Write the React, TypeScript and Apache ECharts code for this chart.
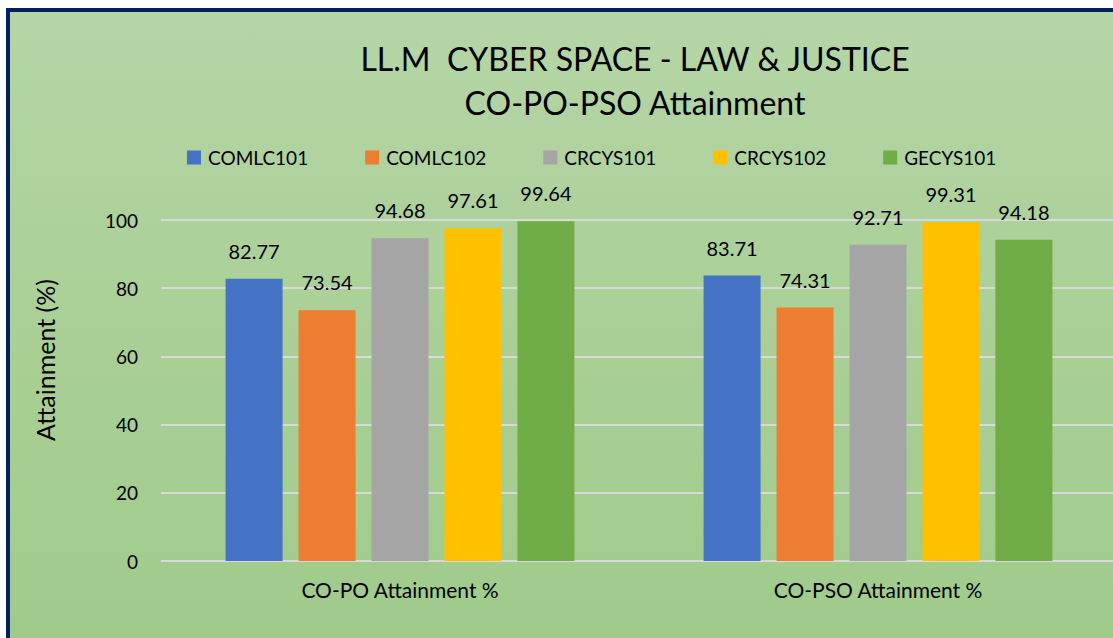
import React, { useEffect, useRef } from "react";
import * as echarts from "echarts";

const categories = ["CO-PO Attainment %", "CO-PSO Attainment %"];
const seriesNames = ["COMLC101", "COMLC102", "CRCYS101", "CRCYS102", "GECYS101"];
const comlc101 = [82.77, 83.71];
const comlc102 = [73.54, 74.31];
const crcys101 = [94.68, 92.71];
const crcys102 = [97.61, 99.31];
const gecys101 = [99.64, 94.18];
const yTicks = [0, 20, 40, 60, 80, 100];
const titleLines = ["LL.M  CYBER SPACE - LAW & JUSTICE", "CO-PO-PSO Attainment"];
const yAxisName = "Attainment (%)";

const colors = ["#4472C4", "#ED7D31", "#A5A5A5", "#FFC000", "#70AD47"];
const FONT = "Lato, 'Open Sans', sans-serif";

export default function App() {
  const ref = useRef<HTMLDivElement>(null);
  useEffect(() => {
    document.body.style.margin = "0";
    document.body.style.overflow = "hidden";
    const chart = echarts.init(ref.current!, null, { renderer: "svg" });
    const values = [comlc101, comlc102, crcys101, crcys102, gecys101];
    chart.setOption({
      animation: false,
      backgroundColor: "transparent",
      textStyle: { fontFamily: FONT },
      graphic: [
        {
          type: "text",
          x: 635,
          y: 58,
          style: {
            text: titleLines[0],
            fontSize: 32,
            fontFamily: FONT,
            fill: "#000",
            align: "center",
            verticalAlign: "middle",
          },
        },
        {
          type: "text",
          x: 635,
          y: 102,
          style: {
            text: titleLines[1],
            fontSize: 32,
            fontFamily: FONT,
            fill: "#000",
            align: "center",
            verticalAlign: "middle",
          },
        },
        {
          type: "text",
          x: 45,
          y: 360,
          rotation: Math.PI / 2,
          style: {
            text: yAxisName,
            fontSize: 25,
            fontFamily: FONT,
            fill: "#000",
            align: "center",
            verticalAlign: "middle",
          },
        },
      ],
      legend: {
        data: seriesNames,
        left: 182,
        top: 143,
        itemWidth: 14,
        itemHeight: 14,
        itemGap: 57,
        icon: "rect",
        textStyle: { fontSize: 19, fontFamily: FONT, color: "#000", padding: [0, 0, 0, 2] },
      },
      grid: {
        left: 161,
        right: -4,
        top: 220,
        bottom: 77,
        containLabel: false,
        outerBoundsMode: "none",
      },
      xAxis: {
        type: "category",
        data: categories,
        axisLine: { show: false },
        axisTick: { show: false },
        axisLabel: { fontSize: 21, color: "#000", margin: 18, fontFamily: FONT },
      },
      yAxis: {
        type: "value",
        min: yTicks[0],
        max: yTicks[yTicks.length - 1],
        interval: 20,
        axisLine: { show: false },
        axisTick: { show: false },
        axisLabel: { fontSize: 19, color: "#000", margin: 23, fontFamily: FONT },
        splitLine: { lineStyle: { color: "#D9D9D9", width: 2 } },
      },
      series: seriesNames.map((name, i) => ({
        name,
        type: "bar",
        data: values[i],
        barWidth: 57,
        barGap: "28%",
        itemStyle: { color: colors[i] },
        label: {
          show: true,
          position: "top",
          distance: 18,
          fontSize: 20,
          color: "#000",
          fontFamily: FONT,
        },
      })),
    });
    return () => chart.dispose();
  }, []);
  return (
    <div style={{ position: "relative", width: 1113, height: 638, overflow: "hidden", background: "#fff" }}>
      <div
        style={{
          position: "absolute",
          left: 6,
          top: 8,
          width: 1200,
          height: 700,
          border: "4px solid #002060",
          background: "linear-gradient(to bottom, #B5D5A6 0%, #A9CF95 50%, #9DCA88 100%)",
        }}
      />
      <div ref={ref} style={{ position: "absolute", left: 0, top: 0, width: 1113, height: 638 }} />
    </div>
  );
}
